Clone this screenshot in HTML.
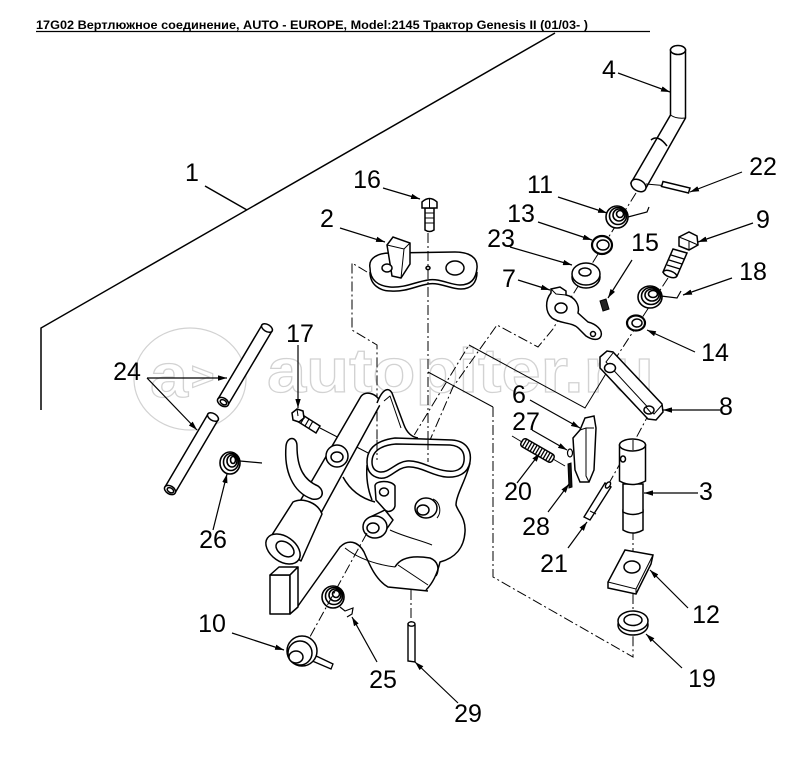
<!DOCTYPE html>
<html><head><meta charset="utf-8"><style>
html,body{margin:0;padding:0;background:#fff;}
svg{display:block;}
</style></head><body>
<svg width="785" height="758" viewBox="0 0 785 758" xmlns="http://www.w3.org/2000/svg" font-family="'Liberation Sans', Arial, sans-serif">
<defs>
<marker id="ar" viewBox="0 0 10 6" refX="10" refY="3" markerWidth="9" markerHeight="5.5" markerUnits="userSpaceOnUse" orient="auto"><path d="M0,0 L10,3 L0,6 z" fill="#000"/></marker>
</defs>
<rect width="785" height="758" fill="#fff"/>

<!-- watermark -->
<g fill="none" stroke="#d2d2d2" stroke-width="1.2">
<ellipse cx="190" cy="379" rx="56" ry="51"/>
<text x="150" y="397" font-size="62" font-weight="bold" textLength="38" lengthAdjust="spacingAndGlyphs">a</text>
<text x="191" y="390" font-size="40" font-weight="bold">&gt;</text>
<text x="267" y="392" font-size="62" font-weight="bold" textLength="387" lengthAdjust="spacingAndGlyphs">autopiter.ru</text>
</g>

<!-- title -->
<text x="36" y="29" font-size="12" font-weight="bold" textLength="552" lengthAdjust="spacingAndGlyphs">17G02 Вертлюжное соединение, AUTO - EUROPE, Model:2145 Трактор Genesis II (01/03- )</text>
<line x1="36" y1="31.5" x2="650" y2="31.5" stroke="#000" stroke-width="1.2"/>

<!-- line 1 -->
<polyline points="41,410 41,328 555,33" fill="none" stroke="#000" stroke-width="1.5"/>

<!-- dashed axes (behind parts) -->
<g fill="none" stroke="#000" stroke-width="1" stroke-dasharray="10 3 2 3">
<line x1="636" y1="193" x2="562" y2="312"/>
<polyline points="562,313 553,329 538,347 497,325 453,387 430,440"/>
<line x1="668" y1="278" x2="610" y2="367"/>
<line x1="650" y1="412" x2="635" y2="440"/>
<polyline points="413,437 469,345"/>
<polyline points="367,272 352,263 352,330 377,345 377,462"/>
<polyline points="493,407 493,577 633,657 633,636"/>
<line x1="633" y1="530" x2="633" y2="552"/>
<line x1="633" y1="594" x2="633" y2="614"/>
<line x1="411" y1="590" x2="411" y2="624"/>
<line x1="622" y1="460" x2="608" y2="485"/>
</g>
<g fill="none" stroke="#000" stroke-width="1">
<polyline points="469,345 585,408 610,367"/>
<line x1="428" y1="372" x2="493" y2="407"/>
<line x1="320" y1="428" x2="372" y2="455"/>
</g>

<!-- PART 4 pipe -->
<g fill="#fff" stroke="#000" stroke-width="1.5">
<path d="M670.5,50 L670.5,115 L631,183 L646,188 L685.5,118 L685.5,50 Z"/>
<ellipse cx="678" cy="50" rx="7.5" ry="4.5"/>
<path d="M651,140 Q658,134 667,146" fill="none"/>
<path d="M670.5,115 Q676,119 685.5,118" fill="none" stroke-width="1"/>
<ellipse cx="638.5" cy="185.5" rx="8" ry="5.5" transform="rotate(30 638.5 185.5)"/>
<line x1="646" y1="184" x2="663" y2="185.5" stroke-width="1"/>
<path d="M663,181.5 L690,188 L688.5,193 L661.5,186.5 Z"/>
</g>

<!-- springs -->
<g fill="#fff" stroke="#000" stroke-width="1.6">
<g transform="translate(617,217)"><ellipse rx="11" ry="11"/><ellipse cx="1" cy="-1" rx="8.5" ry="8.5"/><ellipse cx="2" cy="-2" rx="6" ry="6"/><ellipse cx="3" cy="-3" rx="3.5" ry="3.5"/></g>
<polyline points="628,217 647,212 649,207" fill="none" stroke-width="1.2"/>
<g transform="translate(650,297)"><ellipse rx="12" ry="11"/><ellipse cx="1" cy="-1" rx="9.5" ry="8.5"/><ellipse cx="2" cy="-2" rx="7" ry="6"/><ellipse cx="3" cy="-3" rx="4.5" ry="3.5"/></g>
<polyline points="661,296 677,298 681,291" fill="none" stroke-width="1.2"/>
<g transform="translate(230,463)"><ellipse rx="10" ry="11"/><ellipse cx="1" cy="-1" rx="7.5" ry="8.5"/><ellipse cx="2" cy="-2" rx="5" ry="6"/><ellipse cx="3" cy="-3" rx="2.5" ry="3.5"/></g>
<line x1="240" y1="461" x2="262" y2="463" stroke-width="1.2"/>
<g transform="translate(333,597)"><ellipse rx="11" ry="11"/><ellipse cx="1" cy="-1" rx="8.5" ry="8.5"/><ellipse cx="2" cy="-2" rx="6" ry="6"/><ellipse cx="3" cy="-3" rx="3.5" ry="3.5"/></g>
<polyline points="340,607 345,611 353,608 352,614 347,617" fill="none" stroke-width="1.2"/>
</g>

<!-- washers 13, 23, 14 -->
<g fill="#fff" stroke="#000" stroke-width="1.5">
<ellipse cx="602" cy="245" rx="10" ry="9" stroke-width="2.2"/>
<ellipse cx="603" cy="245" rx="6" ry="5"/>
<ellipse cx="586" cy="277" rx="14" ry="11"/>
<ellipse cx="586" cy="274" rx="14" ry="11"/>
<ellipse cx="585" cy="272" rx="6" ry="4"/>
<ellipse cx="636" cy="323" rx="9" ry="7.5" stroke-width="2.2"/>
<ellipse cx="637" cy="323" rx="5" ry="4"/>
</g>

<!-- part 7 -->
<g fill="#fff" stroke="#000" stroke-width="1.5">
<path d="M551,289 L560,287 L566,291 L566,295 C575,297 580,305 578,313 L588,322 C596,324 603,330 601,336 C599,341 592,340 586,336 L578,328 C572,322 560,324 552,318 C545,312 545,300 551,293 Z"/>
<path d="M551,289 L556,294 L566,295" fill="none" stroke-width="1"/>
<ellipse cx="561" cy="308" rx="6" ry="5"/>
<circle cx="593" cy="334" r="2.5"/>
</g>
<!-- part 15 -->
<path d="M600,301 L606,299 L609,309 L603,311 Z" fill="#222" stroke="#000" stroke-width="1"/>

<!-- bolt 9 -->
<g fill="#fff" stroke="#000" stroke-width="1.5">
<path d="M673,249 L687,253 L677,276 L663,272 Z"/>
<path d="M671,255 L684,259 M669,260 L682,264 M667,265 L680,269" fill="none" stroke-width="1.2"/>
<ellipse cx="670" cy="274" rx="7" ry="3" transform="rotate(20 670 274)"/>
<path d="M679,237 L689,232 L697,236 L698,245 L689,250 L679,246 Z"/>
<path d="M679,237 L689,241 L698,245 M689,241 L689,250" fill="none" stroke-width="1"/>
</g>

<!-- link 8 -->
<g fill="#fff" stroke="#000" stroke-width="1.5">
<path d="M600,357 L607,351 L613,352 L662,404 L663,412 L656,420 L648,419 L600,368 Z"/>
<path d="M613,353 L606,362 L654,414 L662,405" fill="none" stroke-width="1"/>
<ellipse cx="610" cy="368" rx="5.5" ry="4.5"/>
<ellipse cx="649" cy="410" rx="5" ry="4"/>
<path d="M646,407 L652,414" fill="none" stroke-width="1"/>
</g>

<!-- part 6 -->
<g fill="#fff" stroke="#000" stroke-width="1.5">
<path d="M580,430 L585,418 L594,416 L596,428 L594,470 L589,482 L580,482 L575,470 L573,438 Z"/>
<path d="M580,430 L586,428 L594,428 M586,428 L586,476 L589,482" fill="none" stroke-width="1"/>
</g>

<!-- spring 20, pins 27, 28 -->
<line x1="512" y1="436" x2="522" y2="442" stroke="#000" stroke-width="1"/>
<line x1="553" y1="459" x2="565" y2="466" stroke="#000" stroke-width="1"/>
<g transform="translate(537.5,450.5) rotate(30)">
<rect x="-18" y="-4.5" width="36" height="9" rx="3" fill="#fff" stroke="#000" stroke-width="1.5"/>
<path d="M-15,-4 L-15,4 M-12,-4 L-12,4 M-9,-4 L-9,4 M-6,-4 L-6,4 M-3,-4 L-3,4 M0,-4 L0,4 M3,-4 L3,4 M6,-4 L6,4 M9,-4 L9,4 M12,-4 L12,4 M15,-4 L15,4" stroke="#000" stroke-width="1.3"/>
</g>
<ellipse cx="570" cy="453" rx="2.5" ry="4" fill="#fff" stroke="#000" stroke-width="1.2"/>
<path d="M568,464 L571,463 L572,487 L569,488 Z" fill="#111" stroke="#000" stroke-width="1"/>

<!-- pin 21 -->
<g fill="#fff" stroke="#000" stroke-width="1.4">
<path d="M605,483 L611,487 L590,520 L584,517 Z"/>
<ellipse cx="608" cy="485" rx="3.5" ry="2" transform="rotate(-55 608 485)"/>
<path d="M590,511 L596,514" fill="none" stroke-width="1"/>
</g>

<!-- part 3 -->
<g fill="#fff" stroke="#000" stroke-width="1.5">
<path d="M623,510 L623,530 Q633,536 643,530 L643,510 Z"/>
<path d="M623,484 L623,512 Q633,517 643,512 L643,484 Z"/>
<path d="M619.5,445 L619.5,481 Q632,488 645.5,481 L645.5,445 Z"/>
<ellipse cx="632.5" cy="445" rx="13" ry="6"/>
<ellipse cx="623" cy="459" rx="2.5" ry="3"/>
<line x1="633" y1="440" x2="633" y2="450" stroke-width="1"/>
</g>

<!-- part 12 -->
<g fill="#fff" stroke="#000" stroke-width="1.5">
<path d="M625,550 L653,555 L651,564 L636,594 L608,588 L608,582 Z"/>
<path d="M608,582 L636,589 L653,555 M636,589 L636,594" fill="none" stroke-width="1"/>
<ellipse cx="632" cy="567" rx="8" ry="6"/>
</g>

<!-- washer 19 -->
<g fill="#fff" stroke="#000" stroke-width="1.5">
<ellipse cx="633" cy="625" rx="15" ry="10"/>
<ellipse cx="633" cy="621" rx="15" ry="10"/>
<ellipse cx="633" cy="620" rx="9" ry="5.5"/>
</g>

<!-- part 2 plate -->
<g fill="#fff" stroke="#000" stroke-width="1.5">
<path d="M370,272 C370,285 380,291 391,291 C406,292 416,286 428,284 C440,282 450,289 461,289 C471,289 477,283 477,272"/>
<path d="M370,268 C368,258 378,253 390,253 L455,252 C470,252 478,258 477,268 C476,280 470,285 460,285 C450,285 440,278 428,280 C415,282 405,288 390,287 C378,286 370,280 370,268 Z"/>
<path d="M387,245 L393,237 L410,243 L410,264 L401,278 L392,276 Z"/>
<path d="M387,245 L404,249 L410,243 M404,249 L401,278" fill="none" stroke-width="1"/>
<ellipse cx="387" cy="268" rx="5" ry="4"/>
<ellipse cx="455" cy="268" rx="9" ry="7"/>
<ellipse cx="428" cy="268" rx="2" ry="1.6"/>
</g>

<!-- bolt 16 -->
<g fill="#fff" stroke="#000" stroke-width="1.5">
<path d="M425,208 L425,230 Q429.5,233 434,230 L434,208 Z"/>
<path d="M425,213 L434,213 M425,218 L434,218 M425,223 L434,223" stroke-width="1"/>
<path d="M422,208 L422,202 Q429.5,195 437,202 L437,208 Z"/>
<line x1="429.5" y1="199" x2="429.5" y2="208" stroke-width="1"/>
</g>
<line x1="428" y1="233" x2="428" y2="462" stroke="#000" stroke-width="1" stroke-dasharray="10 3 2 3"/>

<!-- pins 24 -->
<g fill="#fff" stroke="#000" stroke-width="1.5">
<path d="M272,331 L228,405 L218,399 L262,325 Z"/>
<ellipse cx="267" cy="328" rx="6" ry="3.5" transform="rotate(31 267 328)"/>
<ellipse cx="223" cy="402" rx="6" ry="4" transform="rotate(31 223 402)"/>
<ellipse cx="223.5" cy="402" rx="3.5" ry="2.2" transform="rotate(31 223 402)"/>
<path d="M218,420 L175,493 L165,487 L208,414 Z"/>
<ellipse cx="213" cy="417" rx="6" ry="3.5" transform="rotate(31 213 417)"/>
<ellipse cx="170" cy="490" rx="6" ry="4" transform="rotate(31 170 490)"/>
<ellipse cx="170.5" cy="490" rx="3.5" ry="2.2" transform="rotate(31 170 490)"/>
</g>

<!-- bolt 17 -->
<g fill="#fff" stroke="#000" stroke-width="1.5">
<path d="M301,414 L320,426 L316,433 L297,421 Z"/>
<path d="M305,416 L301,423 M309,419 L305,426 M313,421 L309,428" fill="none" stroke-width="1.2"/>
<path d="M292,413 L297,409 L303,411 L304,418 L299,422 L293,420 Z"/>
<line x1="297" y1="409" x2="298" y2="416" stroke-width="1"/>
</g>

<!-- MAIN BODY part 1 -->
<g fill="none" stroke="#000" stroke-width="1.5" stroke-linejoin="round">
<!-- block -->
<path d="M270,575 L290,575 L290,614 L270,614 Z" fill="#fff"/>
<path d="M270,575 L279,567 L298,567 L290,575 Z" fill="#fff"/>
<path d="M290,575 L298,567 L298,607 L290,614 Z" fill="#fff"/>
<!-- lower arm -->
<path d="M298,606 L340,547 C348,539 358,541 364,552 C370,566 376,580 388,587 L428,591"/>
<!-- tube -->
<path d="M360,398 C364,390 376,392 381,403 L321,513 L299,503 Z" fill="#fff"/>
<!-- hook -->
<path d="M286,446 C284,470 292,492 312,499 C322,501 326,492 318,486 C304,480 297,468 297,446 C297,436 287,436 286,446 Z" fill="#fff"/>
<!-- eye boss -->
<ellipse cx="337" cy="456" rx="11" ry="11" fill="#fff"/>
<ellipse cx="337" cy="457" rx="6" ry="5"/>
<!-- bush -->
<path d="M270,538 L293,502 C303,497 318,503 322,514 L301,561 Z" fill="#fff"/>
<ellipse cx="283" cy="549" rx="19" ry="12.5" transform="rotate(35 283 549)" fill="#fff"/>
<ellipse cx="285" cy="549" rx="10" ry="6.5" transform="rotate(35 285 549)"/>
<!-- tube to body line -->
<path d="M343,477 C350,490 360,498 375,502"/>
<!-- fin -->
<path d="M377,403 C382,390 388,386 392,393 L404,425 C407,433 412,437 418,438" fill="#fff"/>
<path d="M384,401 L390,396 L401,428" stroke-width="1"/>
<!-- body sides -->
<path d="M367,465 C366,478 368,490 372,500"/>
<path d="M470,463 C466,480 456,495 456,505 C458,512 466,518 465,532 C464,548 455,558 440,562 C437,575 432,584 426,590"/>
<!-- jaw -->
<path d="M395,567 C400,558 412,555 430,558 C438,561 440,569 436,576"/>
<path d="M398,565 L428,585" stroke-width="1"/>
<path d="M345,548 C360,560 380,565 395,567" stroke-width="1"/>
<!-- oval top -->
<path d="M367,462 C367,446 380,440 395,438 L452,440 C466,441 472,450 470,462 C468,474 457,478 446,477 C432,476 421,466 407,467 C396,468 390,480 379,478 C370,476 367,470 367,462 Z" fill="#fff"/>
<path d="M372,462 C372,450 383,445 396,444 L450,445 C461,446 465,452 464,461 C463,470 455,472 447,471 C433,470 421,460 407,461 C396,462 389,473 380,472 C374,471 372,467 372,462 Z"/>
<!-- tab -->
<path d="M375,486 C375,480 392,480 395,486 L395,506 C394,511 388,513 385,510 L376,500 Z" fill="#fff"/>
<ellipse cx="384" cy="492" rx="4.5" ry="4"/>
<!-- lower-left boss -->
<path d="M368,518 L385,510 L393,520 L381,537" fill="#fff"/>
<ellipse cx="375" cy="527" rx="12" ry="11" fill="#fff"/>
<ellipse cx="373" cy="528" rx="6" ry="5"/>
<!-- right boss -->
<ellipse cx="426" cy="508" rx="11" ry="10" fill="#fff"/>
<ellipse cx="423" cy="510" rx="6" ry="5"/>
<path d="M433,499 C440,502 442,512 437,518" stroke-width="1"/>
<!-- inner body lines -->
<path d="M390,530 C405,537 420,540 432,545" stroke-width="1"/>
</g>
<!-- lines into oval -->
<g stroke="#000" stroke-width="1" stroke-dasharray="10 3 2 3" fill="none">
<line x1="428" y1="440" x2="428" y2="462"/>
<line x1="377" y1="440" x2="377" y2="460"/>
<line x1="367" y1="533" x2="300" y2="655"/>
</g>

<!-- spring 10 -->
<g fill="#fff" stroke="#000" stroke-width="1.5">
<path d="M312,654 L333,664 L331,669 L310,660" fill="none" stroke-width="1.3"/>
<ellipse cx="302" cy="651" rx="15" ry="15"/>
<ellipse cx="300" cy="653" rx="12" ry="12"/>
<ellipse cx="296" cy="657" rx="7" ry="6"/>
</g>

<!-- pin 29 -->
<g fill="#fff" stroke="#000" stroke-width="1.4">
<path d="M408,624 L408,661 L415,662 L415,625 Z"/>
<ellipse cx="411.5" cy="624" rx="3.5" ry="2.2"/>
</g>

<!-- leaders -->
<g stroke="#000" stroke-width="1.2" fill="none" marker-end="url(#ar)">
<line x1="383" y1="188" x2="420" y2="199"/>
<line x1="340" y1="228" x2="385" y2="242"/>
<line x1="618" y1="73" x2="670" y2="92"/>
<line x1="742" y1="172" x2="690" y2="192"/>
<line x1="558" y1="197" x2="607" y2="213"/>
<line x1="538" y1="222" x2="592" y2="240"/>
<line x1="753" y1="223" x2="698" y2="242"/>
<line x1="510" y1="247" x2="572" y2="265"/>
<line x1="632" y1="260" x2="608" y2="298"/>
<line x1="732" y1="278" x2="683" y2="295"/>
<line x1="518" y1="280" x2="550" y2="290"/>
<line x1="695" y1="352" x2="647" y2="330"/>
<line x1="720" y1="410" x2="663" y2="410"/>
<line x1="530" y1="400" x2="580" y2="428"/>
<line x1="532" y1="430" x2="567" y2="450"/>
<line x1="517" y1="483" x2="540" y2="453"/>
<line x1="548" y1="512" x2="569" y2="484"/>
<line x1="568" y1="548" x2="587" y2="522"/>
<line x1="698" y1="493" x2="644" y2="493"/>
<line x1="688" y1="608" x2="650" y2="570"/>
<line x1="682" y1="668" x2="646" y2="634"/>
<line x1="458" y1="703" x2="415" y2="662"/>
<line x1="377" y1="662" x2="352" y2="617"/>
<line x1="232" y1="633" x2="284" y2="650"/>
<line x1="213" y1="530" x2="227" y2="474"/>
<line x1="147" y1="378" x2="227" y2="378"/>
<line x1="147" y1="378" x2="197" y2="430"/>
<line x1="298" y1="345" x2="298" y2="408"/>
</g>
<line x1="205" y1="186" x2="247" y2="210" stroke="#000" stroke-width="1.5"/>

<!-- labels -->
<g font-size="25" fill="#000" text-anchor="middle">
<text x="192" y="181">1</text>
<text x="367" y="188">16</text>
<text x="327" y="227">2</text>
<text x="609" y="78">4</text>
<text x="763" y="175">22</text>
<text x="540" y="193">11</text>
<text x="521" y="222">13</text>
<text x="763" y="228">9</text>
<text x="501" y="247">23</text>
<text x="645" y="251">15</text>
<text x="753" y="280">18</text>
<text x="509" y="287">7</text>
<text x="715" y="361">14</text>
<text x="519" y="403">6</text>
<text x="726" y="415">8</text>
<text x="526" y="430">27</text>
<text x="518" y="500">20</text>
<text x="536" y="535">28</text>
<text x="554" y="572">21</text>
<text x="706" y="500">3</text>
<text x="706" y="623">12</text>
<text x="702" y="687">19</text>
<text x="468" y="722">29</text>
<text x="383" y="688">25</text>
<text x="212" y="632">10</text>
<text x="213" y="548">26</text>
<text x="127" y="380">24</text>
<text x="300" y="342">17</text>
</g>
</svg>
</body></html>
